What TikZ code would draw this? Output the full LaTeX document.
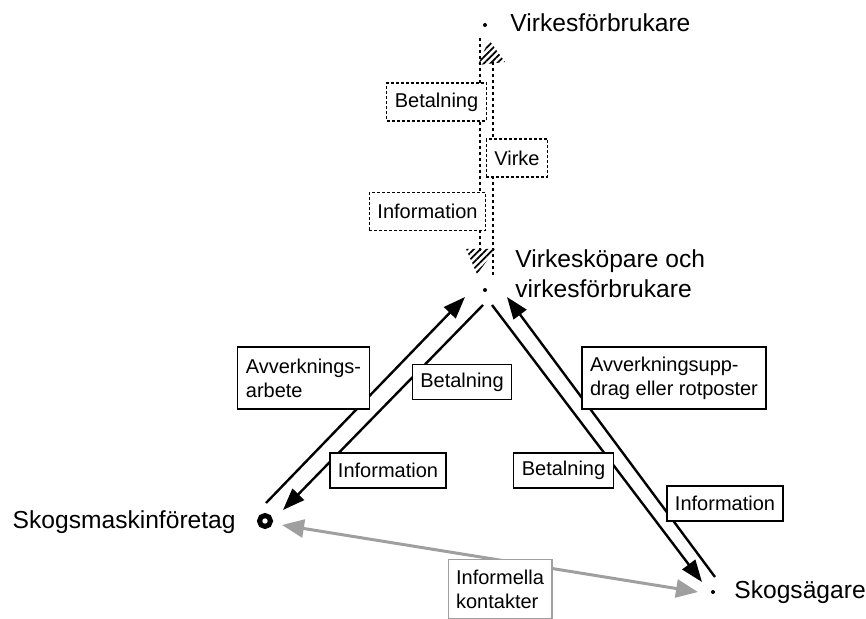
\documentclass[tikz,border=0pt]{standalone}
\usepackage{fontspec}
\setmainfont{Liberation Sans}
\usetikzlibrary{arrows.meta,patterns.meta}
\tikzstyle{flow} = [draw, line width=1.2pt, -{Triangle[length=11pt,width=8pt]}]
\tikzstyle{tie} = [draw=gray!75, line width=1.5pt, {Triangle[length=11pt,width=9pt,fill=gray!75]}-{Triangle[length=11pt,width=9pt,fill=gray!75]}]
\tikzstyle{dotline} = [draw, line width=1.2pt, dash pattern=on 1.5pt off 1.5pt]
\tikzstyle{box} = [rectangle, draw, fill=white, line width=0.6pt, align=left, inner xsep=4pt, inner ysep=2pt, minimum height=17.5pt, font=\fontsize{10}{12}\selectfont]
\tikzstyle{dotbox} = [box, dash pattern=on 1.5pt off 1pt, minimum height=19pt]
\tikzstyle{actor} = [inner sep=0pt, font=\fontsize{12.3}{15}\selectfont]
\tikzstyle{spot} = [circle, fill, inner sep=0pt, minimum size=2pt]
\tikzstyle{hatch} = [pattern={Lines[angle=45, distance=2.3pt, line width=0.9pt]}]

\begin{document}
\begin{tikzpicture}[x=0.5pt, y=-0.5pt]
	\useasboundingbox (0,0) rectangle (866,619);
	% actors
	\node [spot] (vfb) at (485,25) {};
	\node [spot] (vkp) at (485,290) {};
	\node [circle, draw, line width=2.5pt, inner sep=0pt, minimum size=5.5pt] (smf) at (265,521) {};
	\node [spot] (sag) at (713,592) {};
	\node [actor, anchor=base west] (vfbname) at (510,32) {Virkesförbrukare};
	\node [actor, anchor=west, align=left] (vkpname) at (515,274) {Virkesköpare och\\virkesförbrukare};
	\node [actor, anchor=base east] (smfname) at (236,528) {Skogsmaskinföretag};
	\node [actor, anchor=base west] (sagname) at (734,598) {Skogsägare};
	% end points of the flows
	\coordinate (a1s) at (266,503); \coordinate (a1e) at (465,297);
	\coordinate (a2s) at (483,305); \coordinate (a2e) at (283,510);
	\coordinate (a3s) at (492,305); \coordinate (a3e) at (702,582);
	\coordinate (a4s) at (715,577); \coordinate (a4e) at (507,297);
	\coordinate (t1) at (282,525); \coordinate (t2) at (698,592);
	\coordinate (d1s) at (480,38); \coordinate (d1e) at (480,252);
	\coordinate (d2s) at (493,275); \coordinate (d2e) at (493,62);
	% flows
	\path [flow] (a1s) -- (a1e);
	\path [flow] (a2s) -- (a2e);
	\path [flow] (a3s) -- (a3e);
	\path [flow] (a4s) -- (a4e);
	\path [tie] (t1) -- (t2);
	\path [dotline] (d1s) -- (d1e);
	\path [dotline] (d2s) -- (d2e);
	\fill [hatch] (466,249) -- (496,249) -- (477,274) -- cycle;
	\fill [hatch] (478,65) -- (505,62) -- (489,40) -- cycle;
	% labels
	\node [dotbox] (betT) at (436.5,102) {Betalning};
	\node [dotbox] (virke) at (517,158) {Virke};
	\node [dotbox] (infT) at (427.5,211.5) {Information};
	\node [box, minimum height=31pt] (avv) at (303.5,378) {Avverknings-\\arbete};
	\node [box] (betL) at (462,382) {Betalning};
	\node [box] (infL) at (388,470.5) {Information};
	\node [box, minimum height=31pt] (uppdr) at (674,378) {Avverkningsupp-\\drag eller rotposter};
	\node [box] (betR) at (563.5,470.5) {Betalning};
	\node [box] (infR) at (725,503.5) {Information};
	\node [box, draw=gray!75, minimum height=29.5pt] (inform) at (500,589) {Informella\\kontakter};
\end{tikzpicture}
\end{document}
